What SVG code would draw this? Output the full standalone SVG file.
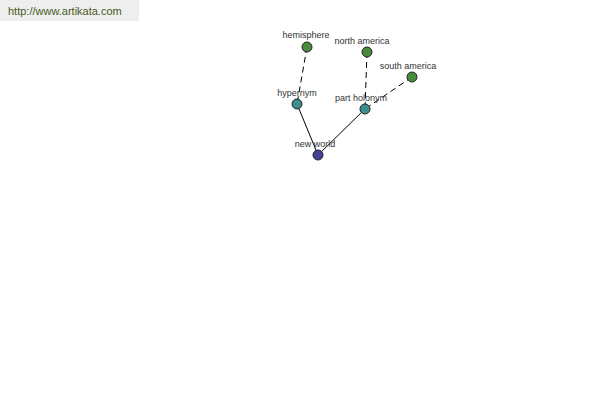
<svg xmlns="http://www.w3.org/2000/svg" width="600" height="400" viewBox="0 0 600 400">
<style>
.lbl{font-family:"Liberation Sans",Arial,sans-serif;font-size:9px;fill:#333;text-anchor:middle}
.n circle{stroke:#222;stroke-width:1}
.g{fill:#4a8a3e}.t{fill:#3d8f8f}.b{fill:#43439a}
.e{stroke:#000;stroke-width:1;fill:none}
.d{stroke-dasharray:6,4}
</style>
<rect x="0" y="0" width="139" height="21" fill="#eeeeee"/>
<text x="8" y="15" font-family="'Liberation Sans',Arial,sans-serif" font-size="11" fill="#4a5a1a">http://www.artikata.com</text>
<g id="connectors">
<line class="e d" x1="307" y1="47" x2="297" y2="104"/>
<line class="e d" x1="367" y1="52" x2="365" y2="109"/>
<line class="e d" x1="412" y1="77" x2="365" y2="109"/>
<line class="e" x1="297" y1="104" x2="318" y2="155"/>
<line class="e" x1="365" y1="109" x2="318" y2="155"/>
</g>
<g id="hemisphere" class="n"><circle class="g" cx="307" cy="47" r="5"/><text class="lbl" x="306" y="38">hemisphere</text></g>
<g id="north-america" class="n"><circle class="g" cx="367" cy="52" r="5"/><text class="lbl" x="362" y="44">north america</text></g>
<g id="south-america" class="n"><circle class="g" cx="412" cy="77" r="5"/><text class="lbl" x="408" y="69">south america</text></g>
<g id="hypernym" class="n"><circle class="t" cx="297" cy="104" r="5"/><text class="lbl" x="297" y="96">hypernym</text></g>
<g id="part-holonym" class="n"><circle class="t" cx="365" cy="109" r="5"/><text class="lbl" x="361" y="101">part holonym</text></g>
<g id="new-world" class="n"><circle class="b" cx="318" cy="155" r="5"/><text class="lbl" x="315" y="147">new world</text></g>
</svg>
